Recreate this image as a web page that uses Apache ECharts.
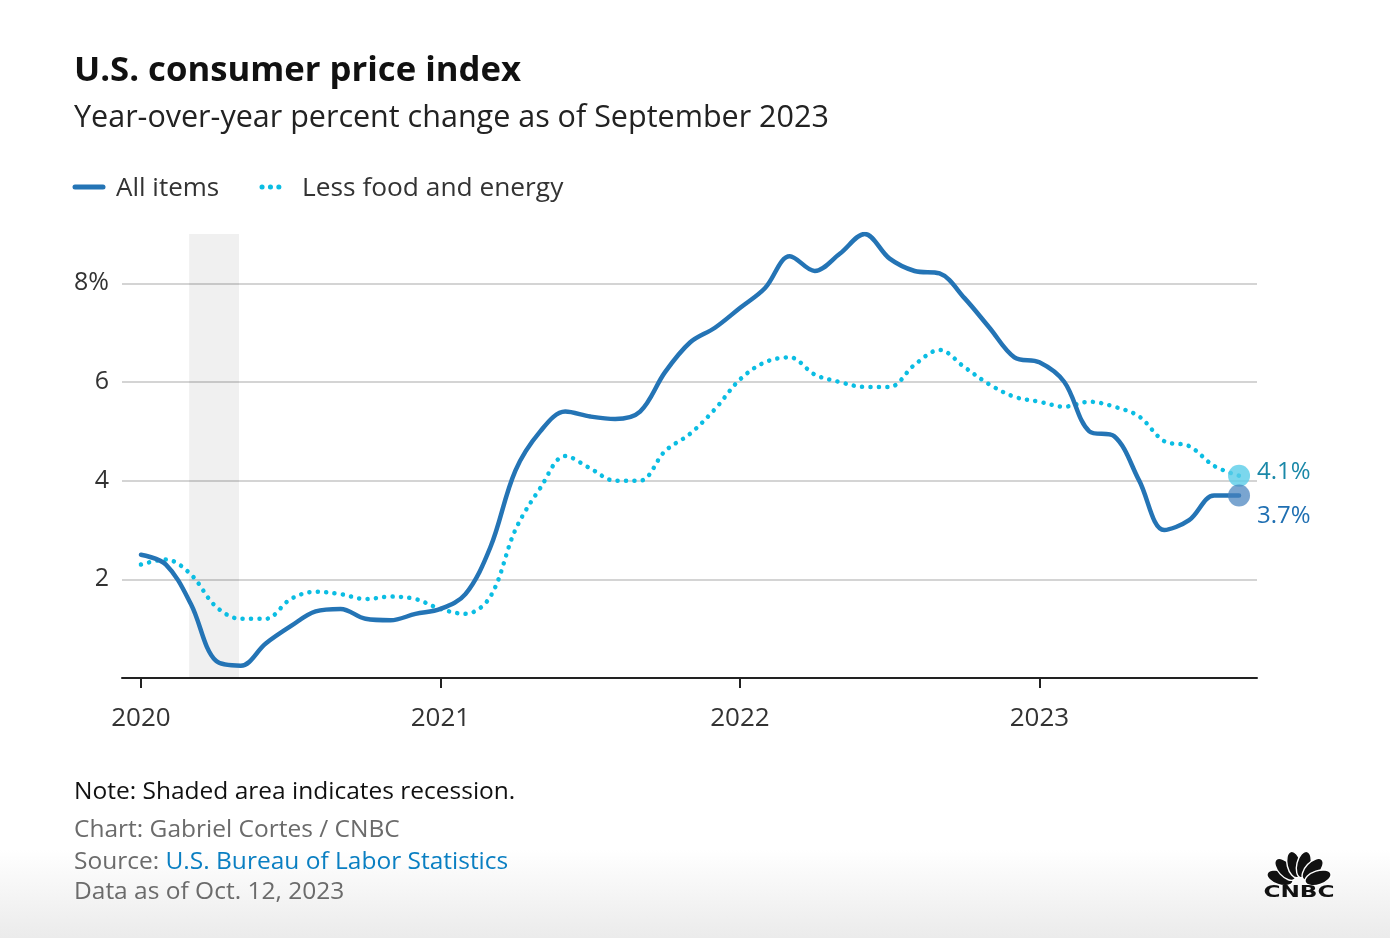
<!DOCTYPE html>
<html><head><meta charset="utf-8">
<script src="https://cdn.jsdelivr.net/npm/echarts@6/dist/echarts.min.js"></script>
<style>
html,body{margin:0;padding:0;width:1390px;height:938px;overflow:hidden;background:linear-gradient(to bottom,#ffffff 0px,#ffffff 850px,#ebebeb 938px);}
#chart{width:1390px;height:938px;}
</style></head><body><div id="chart"></div>
<script>
// Months from Jan 2020 (index 0) to Sep 2023 (index 44)
const months = [
 '2020-01','2020-02','2020-03','2020-04','2020-05','2020-06','2020-07','2020-08','2020-09','2020-10','2020-11','2020-12',
 '2021-01','2021-02','2021-03','2021-04','2021-05','2021-06','2021-07','2021-08','2021-09','2021-10','2021-11','2021-12',
 '2022-01','2022-02','2022-03','2022-04','2022-05','2022-06','2022-07','2022-08','2022-09','2022-10','2022-11','2022-12',
 '2023-01','2023-02','2023-03','2023-04','2023-05','2023-06','2023-07','2023-08','2023-09'];
const allItems = [2.5,2.3,1.5,0.35,0.25,0.7,1.05,1.35,1.4,1.2,1.17,1.3,
 1.4,1.7,2.65,4.2,5.0,5.4,5.3,5.25,5.4,6.2,6.8,7.1,
 7.5,7.9,8.55,8.25,8.6,9.0,8.5,8.25,8.2,7.7,7.1,6.5,
 6.4,6.0,5.0,4.9,4.0,3.0,3.2,3.7,3.7];
const lessFoodEnergy = [2.3,2.4,2.1,1.45,1.2,1.2,1.6,1.75,1.7,1.6,1.65,1.6,
 1.4,1.3,1.65,3.0,3.85,4.5,4.25,4.0,4.0,4.6,4.95,5.45,
 6.05,6.4,6.5,6.15,6.0,5.9,5.9,6.35,6.65,6.3,5.95,5.7,
 5.6,5.5,5.6,5.5,5.3,4.8,4.7,4.3,4.1];
const yearTicks = [0,12,24,36];
const yearLabels = ['2020','2021','2022','2023'];
const recession = [1.93, 3.93];
const seriesNames = ['All items','Less food and energy'];

const FONT = '"Open Sans", Lato, sans-serif';
const toPairs = arr => arr.map((v,i)=>[i,v]);
const lastIdx = months.length - 1;

const chart = echarts.init(document.getElementById('chart'), null, {renderer:'canvas'});

// CNBC peacock feathers
const petals = [];
const baseX = 1299, baseY = 884;
[-72,-43,-14,14,43,72].forEach(deg=>{
  const t = deg*Math.PI/180, d = 20;
  petals.push({type:'ellipse', x: baseX + d*Math.sin(t), y: baseY - d*Math.cos(t), rotation: -t,
    shape:{cx:0, cy:0, rx:7, ry:13.5}, style:{fill:'#111', stroke:'#fff', lineWidth:1.4}, silent:true});
});

const option = {
  animation:false,
  grid:{left:122, right:133, top:234, bottom:260},
  xAxis:{type:'value', min:-0.76, max:44.72,
    axisLine:{show:true, lineStyle:{color:'#222', width:2}},
    axisTick:{show:true, customValues:yearTicks, length:10, lineStyle:{color:'#222', width:2}},
    axisLabel:{customValues:yearTicks, formatter:v=>yearLabels[yearTicks.indexOf(v)] || '', fontSize:26, color:'#333', fontFamily:FONT, margin:28},
    splitLine:{show:false}},
  yAxis:{type:'value', min:0, max:9, interval:2,
    axisLine:{show:false}, axisTick:{show:false},
    axisLabel:{showMinLabel:false, showMaxLabel:false, formatter:v=>v===8?'8%':String(v), fontSize:25, color:'#333', fontFamily:FONT, margin:13, padding:[3,0,0,0]},
    splitLine:{show:true, lineStyle:{color:['rgba(0,0,0,0)','#d4d4d4','#d4d4d4','#d4d4d4','#d4d4d4','rgba(0,0,0,0)'], width:2}}},
  series:[
    {name:seriesNames[1], type:'line', data:toPairs(lessFoodEnergy), smooth:0.35, symbol:'none', z:3,
     lineStyle:{color:'#0bbde3', width:4.5, type:[0.1,8.3], cap:'round'},
     markPoint:{symbol:'circle', symbolSize:22, silent:true,
       itemStyle:{color:'rgba(90,205,232,0.8)'},
       label:{show:true, position:'right', distance:7, offset:[0,-4], formatter:p=>p.value+'%', fontSize:24, color:'#1a88a8', fontFamily:FONT},
       data:[{coord:[lastIdx, lessFoodEnergy[lastIdx]], value:lessFoodEnergy[lastIdx]}]}},
    {name:seriesNames[0], type:'line', data:toPairs(allItems), smooth:0.35, symbol:'none', z:4,
     lineStyle:{color:'#2474b5', width:4.5, cap:'round', join:'round'},
     markArea:{silent:true, itemStyle:{color:'rgba(0,0,0,0.06)'},
       data:[[{xAxis:recession[0]},{xAxis:recession[1]}]]},
     markPoint:{symbol:'circle', symbolSize:22, silent:true,
       itemStyle:{color:'rgba(70,130,190,0.72)'},
       label:{show:true, position:'right', distance:7, offset:[0,21], formatter:p=>p.value+'%', fontSize:24, color:'#1f6fb2', fontFamily:FONT},
       data:[{coord:[lastIdx, allItems[lastIdx]], value:allItems[lastIdx]}]}}
  ],
  graphic:[
    {type:'text', x:74, y:71, style:{text:'U.S. consumer price index', font:'bold 34.7px '+FONT, fill:'#111', verticalAlign:'middle'}},
    {type:'text', x:74, y:118, style:{text:'Year-over-year percent change as of September 2023', font:'30.5px '+FONT, fill:'#222', verticalAlign:'middle'}},
    {type:'line', shape:{x1:75, y1:187, x2:103, y2:187}, style:{stroke:'#2474b5', lineWidth:5, lineCap:'round'}},
    {type:'text', x:116, y:189, style:{text:seriesNames[0], font:'26px '+FONT, fill:'#333', verticalAlign:'middle'}},
    {type:'line', shape:{x1:262, y1:187, x2:283, y2:187}, style:{stroke:'#0bbde3', lineWidth:5, lineCap:'round', lineDash:[0.1,8.3]}},
    {type:'text', x:302, y:189, style:{text:seriesNames[1], font:'26.3px '+FONT, fill:'#333', verticalAlign:'middle'}},
    {type:'text', x:74, y:792, style:{text:'Note: Shaded area indicates recession.', font:'24.5px '+FONT, fill:'#111', verticalAlign:'middle'}},
    {type:'text', x:74, y:830, style:{text:'Chart: Gabriel Cortes / CNBC', font:'24.5px '+FONT, fill:'#6b6b6b', verticalAlign:'middle'}},
    {type:'text', x:74, y:862, style:{text:'{a|Source: }{b|U.S. Bureau of Labor Statistics}', font:'24.5px '+FONT, verticalAlign:'middle',
      rich:{a:{fill:'#6b6b6b', font:'24.5px '+FONT}, b:{fill:'#0a7fc2', font:'24.5px '+FONT}}}},
    {type:'text', x:74, y:892, style:{text:'Data as of Oct. 12, 2023', font:'24.5px '+FONT, fill:'#6b6b6b', verticalAlign:'middle'}},
    ...petals,
    {type:'text', x:1299, y:893, scaleX:1.45, style:{text:'CNBC', font:'900 16px "DejaVu Sans", sans-serif', fill:'#111', align:'center', verticalAlign:'middle'}}
  ]
};
chart.setOption(option);
</script>
</body></html>
